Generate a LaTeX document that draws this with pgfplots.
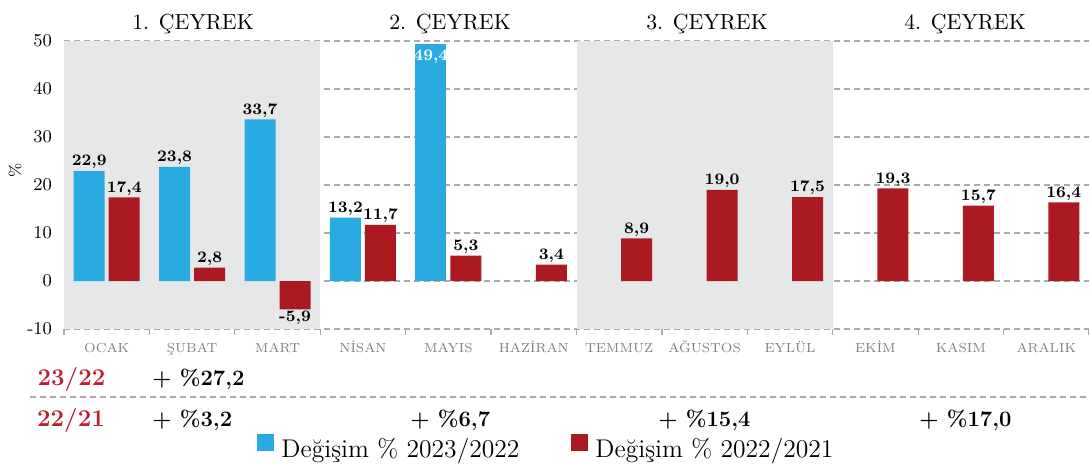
\documentclass[border=0pt]{standalone}
\usepackage{pgfplots}
\pgfplotsset{compat=1.18}
\definecolor{cblue}{RGB}{41,170,225}
\definecolor{cred}{RGB}{171,26,33}
\definecolor{bgshade}{RGB}{230,231,232}
\definecolor{gridg}{RGB}{170,170,170}
\definecolor{lblred}{RGB}{190,30,45}

\begin{document}
\begin{tikzpicture}[x=1pt,y=1pt]
\begin{axis}[
    at={(0,0)}, anchor=south west,
    scale only axis, width=512.5pt, height=144pt,
    set layers,
    xmin=-0.5, xmax=11.5, ymin=-10, ymax=50,
    ybar, bar width=15.5pt,
    axis line style={draw=none},
    tick pos=left,
    ytick={-10,0,10,20,30,40,50},
    ymajorgrids,
    grid style={gridg, dash pattern=on 3pt off 2pt, line width=0.6pt},
    xtick={0,...,11},
    xticklabels={OCAK,ŞUBAT,MART,NİSAN,MAYIS,HAZİRAN,TEMMUZ,AĞUSTOS,EYLÜL,EKİM,KASIM,ARALIK},
    minor xtick={-0.5,0.5,...,11.5},
    major tick length=0pt, minor tick length=3pt, tick align=outside,
    minor x tick style={gridg, line width=0.6pt},
    x tick label style={font=\fontsize{6.6}{8}\selectfont, text=gray,
        text height=5.5pt, text depth=1pt, yshift=-2.8pt},
    y tick label style={font=\fontsize{9}{10}\selectfont, xshift=-2.5pt},
    /pgf/number format/assume math mode=true,
    nodes near coords={\pgfmathprintnumber[fixed,fixed zerofill,precision=1,use comma]{\pgfplotspointmeta}},
    nodes near coords style={font=\bfseries\fontsize{8}{9}\selectfont, text=black, inner sep=0.8pt},
    legend image code/.code={\fill[#1] (0pt,-1pt) rectangle (8.5pt,7.5pt);},
    legend style={at={(0.4717,-0.4167)}, anchor=center, draw=none, fill=none,
        legend columns=2, font=\fontsize{12.8}{14}\selectfont,
        /tikz/every odd column/.append style={column sep=1.5pt},
        /tikz/every even column/.append style={column sep=24pt}},
]
\fill[bgshade, on layer=axis background] (axis cs:-0.5,-10) rectangle (axis cs:2.5,50);
\fill[bgshade, on layer=axis background] (axis cs:5.5,-10) rectangle (axis cs:8.5,50);

\addplot[fill=cblue, draw=none, bar shift=-8.75pt] coordinates {
    (0,22.9) (1,23.8) (2,33.7) (3,13.2)
};
\addplot[fill=cred, draw=none, bar shift=8.75pt] coordinates {
    (0,17.4) (1,2.8) (2,-5.9) (3,11.7) (4,5.3) (5,3.4)
    (6,8.9) (7,19.0) (8,17.5) (9,19.3) (10,15.7) (11,16.4)
};
\addplot[fill=cblue, draw=none, bar shift=-8.75pt, forget plot,
    nodes near coords style={text=white, yshift=-10.8pt}] coordinates {
    (4,49.4)
};
\legend{Değişim \% 2023/2022, Değişim \% 2022/2021}
\end{axis}

\node[rotate=90, font=\fontsize{8}{9}\selectfont] at (-24.5,79.5) {\%};

\foreach \cx/\q in {64.5/1, 193/2, 321.5/3, 450.5/4}
  \node[anchor=base, font=\fontsize{10.9}{12}\selectfont, inner sep=0pt] at (\cx,149.8) {\q. ÇEYREK};

\node[anchor=base, text=lblred, font=\bfseries\fontsize{12}{13}\selectfont, inner sep=0pt] at (3.75,-28) {23/22};
\node[anchor=base, text=lblred, font=\bfseries\fontsize{12}{13}\selectfont, inner sep=0pt] at (3.5,-48.5) {22/21};
\draw[gridg, dash pattern=on 3pt off 2pt, line width=0.6pt] (-17,-34) -- (512.5,-34);

\node[anchor=base west, font=\bfseries\fontsize{11}{12}\selectfont, inner sep=0pt] at (44,-28) {+ \%27,2};
\node[anchor=base west, font=\bfseries\fontsize{11}{12}\selectfont, inner sep=0pt] at (44,-48.5) {+ \%3,2};
\node[anchor=base west, font=\bfseries\fontsize{11}{12}\selectfont, inner sep=0pt] at (173,-48.5) {+ \%6,7};
\node[anchor=base west, font=\bfseries\fontsize{11}{12}\selectfont, inner sep=0pt] at (297,-48.5) {+ \%15,4};
\node[anchor=base west, font=\bfseries\fontsize{11}{12}\selectfont, inner sep=0pt] at (427.5,-48.5) {+ \%17,0};

\pgfresetboundingbox
\useasboundingbox (-32,-67) rectangle (512.5,164.5);
\end{tikzpicture}
\end{document}
